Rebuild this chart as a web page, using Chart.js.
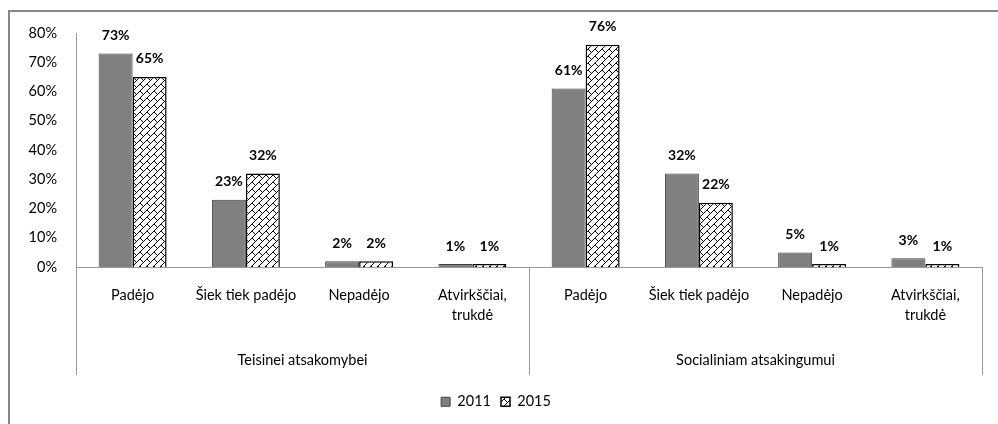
<!DOCTYPE html>
<html>
<head>
<meta charset="utf-8">
<script src="https://cdn.jsdelivr.net/npm/chart.js@4/dist/chart.umd.min.js"></script>
<style>
  body { margin: 0; background: #fff; }
  canvas { display: block; }
</style>
</head>
<body>
<canvas id="chart" width="998" height="424"></canvas>
<script>
// Chart data
var categories = ['Padėjo', 'Šiek tiek padėjo', 'Nepadėjo', ['Atvirkščiai,', 'trukdė'],
                  'Padėjo', 'Šiek tiek padėjo', 'Nepadėjo', ['Atvirkščiai,', 'trukdė']];
var groups = ['Teisinei atsakomybei', 'Socialiniam atsakingumui'];
var groupSize = 4;
var values2011 = [73, 23, 2, 1, 61, 32, 5, 3];
var values2015 = [65, 32, 2, 1, 76, 22, 1, 1];
var seriesLabels = ['2011', '2015'];

var FONT = 'Lato, "Open Sans", sans-serif';
var FSIZE = 14.5;

// Brick-like diagonal hatch used for the 2015 bars
function makeHatch() {
    var t = 7;
    var c = document.createElement('canvas');
    c.width = t;
    c.height = t;
    var g = c.getContext('2d');
    g.fillStyle = '#fff';
    g.fillRect(0, 0, t, t);
    g.strokeStyle = '#000';
    g.lineWidth = 1;
    for (var ox = -t; ox <= t; ox += t) {
        for (var oy = -t; oy <= t; oy += t) {
            g.beginPath();
            g.moveTo(ox, oy + t);
            g.lineTo(ox + t, oy);
            g.moveTo(ox, oy);
            g.lineTo(ox + t / 2, oy + t / 2);
            g.stroke();
        }
    }
    return g.createPattern(c, 'repeat');
}

// Frame, data labels, group labels and separators
var decorPlugin = {
    id: 'decor',
    beforeDraw: function(chart) {
        var ctx = chart.ctx;
        ctx.save();
        ctx.fillStyle = '#fff';
        ctx.fillRect(0, 0, chart.width, chart.height);
        ctx.strokeStyle = '#888';
        ctx.lineWidth = 2;
        ctx.strokeRect(9, 11, chart.width + 20, chart.height + 20);
        ctx.restore();
    },
    afterDraw: function(chart) {
        var ctx = chart.ctx;
        var area = chart.chartArea;
        ctx.save();

        // bar value labels
        ctx.fillStyle = '#000';
        ctx.font = 'bold 14px ' + FONT;
        ctx.textAlign = 'center';
        ctx.textBaseline = 'middle';
        chart.data.datasets.forEach(function(ds, di) {
            chart.getDatasetMeta(di).data.forEach(function(bar, i) {
                ctx.fillText(ds.data[i] + '%', bar.x, bar.y - 18);
            });
        });

        // group separators
        var step = (area.right - area.left) / categories.length;
        ctx.strokeStyle = '#999';
        ctx.lineWidth = 1;
        for (var g = 0; g <= groups.length; g++) {
            var gx = Math.round(area.left + g * groupSize * step) + 0.5;
            ctx.beginPath();
            ctx.moveTo(gx, area.bottom);
            ctx.lineTo(gx, 375);
            ctx.stroke();
        }

        // group labels
        ctx.font = FSIZE + 'px ' + FONT;
        ctx.fillStyle = '#000';
        groups.forEach(function(name, g) {
            var cx = area.left + (g * groupSize + groupSize / 2) * step;
            ctx.fillText(name, cx, 360);
        });
        ctx.restore();
    }
};

var hatch = makeHatch();

new Chart(document.getElementById('chart').getContext('2d'), {
    type: 'bar',
    data: {
        labels: categories,
        datasets: [{
            label: seriesLabels[0],
            data: values2011,
            backgroundColor: '#808080',
            borderColor: '#404040',
            borderWidth: 1,
            categoryPercentage: 0.6,
            barPercentage: 1.0
        }, {
            label: seriesLabels[1],
            data: values2015,
            backgroundColor: hatch,
            borderColor: '#000',
            borderWidth: 1.5,
            categoryPercentage: 0.6,
            barPercentage: 1.0
        }]
    },
    options: {
        responsive: false,
        animation: false,
        layout: {
            padding: { left: 10, right: 16, top: 33, bottom: 5 }
        },
        plugins: {
            legend: {
                position: 'bottom',
                labels: {
                    boxWidth: 9,
                    boxHeight: 9,
                    padding: 10,
                    color: '#000',
                    font: { family: FONT, size: FSIZE }
                }
            },
            tooltip: { enabled: false }
        },
        scales: {
            x: {
                grid: { display: false, drawTicks: false },
                border: { display: true, color: '#999', width: 1 },
                ticks: {
                    color: '#000',
                    padding: 18,
                    maxRotation: 0,
                    autoSkip: false,
                    font: { family: FONT, size: FSIZE, lineHeight: 1.4 }
                },
                afterFit: function(scale) { scale.height = 117.5; }
            },
            y: {
                min: 0,
                max: 80,
                grid: { display: false, drawTicks: false },
                border: { display: true, color: '#999', width: 1 },
                ticks: {
                    stepSize: 10,
                    color: '#000',
                    padding: 19,
                    font: { family: FONT, size: FSIZE },
                    callback: function(v) { return v + '%'; }
                },
                afterFit: function(scale) { scale.width = 66; }
            }
        }
    },
    plugins: [decorPlugin]
});
</script>
</body>
</html>
